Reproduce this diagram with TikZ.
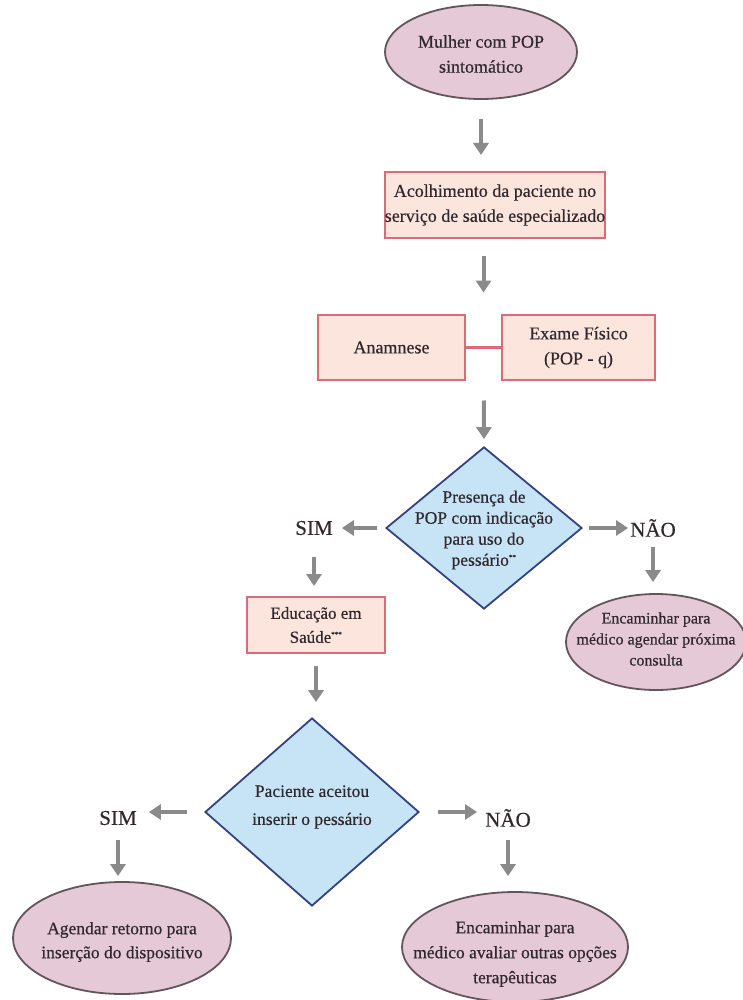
\documentclass[tikz,border=0pt]{standalone}
\usepackage{fontspec}
\setmainfont{Liberation Serif}[FakeBold=0.5]
\usetikzlibrary{shapes.geometric,arrows.meta,calc}

\definecolor{inktxt}{RGB}{48,40,45}
\definecolor{ovalfill}{RGB}{229,201,214}
\definecolor{ovalline}{RGB}{98,86,92}
\definecolor{boxfill}{RGB}{252,229,221}
\definecolor{boxline}{RGB}{218,108,120}
\definecolor{choicefill}{RGB}{199,228,246}
\definecolor{choiceline}{RGB}{52,66,128}
\definecolor{arrowgray}{RGB}{138,138,138}

\newcommand{\notestars}[1]{\textsuperscript{\fontsize{7}{7}\selectfont #1}}

\begin{document}
\begin{tikzpicture}[x=1pt,y=-1pt,
  txt/.style={text=inktxt,font=\fontsize{18}{25}\selectfont,align=center},
  oval/.style={ellipse,draw=ovalline,fill=ovalfill,line width=1.8pt,inner sep=0},
  stepbox/.style={rectangle,draw=boxline,fill=boxfill,line width=2pt,inner sep=0,txt},
  choice/.style={diamond,draw=choiceline,fill=choicefill,line width=1.8pt,inner sep=0},
  tag/.style={inner sep=0,text=inktxt,font=\fontsize{21}{21}\selectfont},
  arr/.style={draw=arrowgray,line width=4pt,-{Triangle[length=12pt,width=15pt]}}]

\useasboundingbox[fill=white] (0,0) rectangle (742,1000);

% start
\node[oval,minimum width=192pt,minimum height=94pt,
  label={[txt,yshift=-2pt]center:{Mulher com POP\\sintomático}}] (start) at (481,52) {};

% reception
\node[stepbox,minimum width=220pt,minimum height=66pt] (recv) at (495,205)
  {Acolhimento da paciente no\\serviço de saúde especializado};

% history and examination
\node[stepbox,minimum width=147pt,minimum height=65pt] (ana) at (391.5,347.5) {Anamnese};
\node[stepbox,minimum width=153pt,minimum height=65pt] (exa) at (578.5,347.5) {Exame Físico\\(POP - q)};
\draw[draw=boxline,line width=2.5pt] (ana.east) -- (exa.west);
\coordinate (j) at ($(ana.east)!0.5!(exa.west)$);

% first decision
\node[choice,minimum width=196pt,minimum height=162pt,
  label={[txt,font=\fontsize{17.5}{21}\selectfont,yshift=-2pt]center:{Presença de\\POP com indicação\\para uso do\\pessário\notestars{**}}}] (d1) at (484,528) {};
\node[tag] (sim1) at (314,528) {SIM};
\node[tag] (nao1) at (653,528) {NÃO};
\node[oval,minimum width=180pt,minimum height=96pt,
  label={[txt,font=\fontsize{16}{21}\selectfont,yshift=3pt]center:{Encaminhar para\\médico agendar próxima\\consulta}}] (end1) at (656,642) {};

% health education
\node[stepbox,minimum width=138pt,minimum height=56pt,font=\fontsize{17}{24}\selectfont] (edu) at (316,625)
  {Educação em\\Saúde\notestars{***}};

% second decision
\node[choice,minimum width=214pt,minimum height=188pt,
  label={[txt,font=\fontsize{17.5}{28}\selectfont,yshift=5pt]center:{Paciente aceitou\\inserir o pessário}}] (d2) at (312,812) {};
\node[tag] (sim2) at (118,818) {SIM};
\node[tag] (nao2) at (508,818) {NÃO};
\node[oval,minimum width=218pt,minimum height=112pt,
  label={[txt,font=\fontsize{17.5}{24}\selectfont,yshift=-4pt]center:{Agendar retorno para\\inserção do dispositivo}}] (end2) at (122,938) {};
\node[oval,minimum width=226pt,minimum height=110pt,
  label={[txt,font=\fontsize{17.5}{25}\selectfont,yshift=-7pt]center:{Encaminhar para\\médico avaliar outras opções\\terapêuticas}}] (end3) at (515,947) {};

% connectors
\draw[arr,shorten <=19pt,shorten >=16pt] (start.south) -- (start.south |- recv.north);
\draw[arr,shorten <=17pt,shorten >=55pt] (recv.south -| j) -- (j);
\draw[arr,shorten <=53pt,shorten >=7pt] (j) -- (d1.north);

\draw[arr,shorten <=8pt,shorten >=9pt] (d1.west) -- (d1.west -| sim1.east);
\draw[arr,shorten <=22pt,shorten >=10pt] (sim1.south) -- (sim1.south |- edu.north);
\draw[arr,shorten <=6pt,shorten >=2pt] (d1.east) -- (d1.east -| nao1.west);
\draw[arr,shorten <=10pt,shorten >=11pt] (nao1.south) -- (nao1.south |- end1.north);

\draw[arr,shorten <=12pt,shorten >=15pt] (edu.south) -- (edu.south |- d2.north);

\draw[arr,shorten <=17pt,shorten >=12pt] (d2.west) -- (d2.west -| sim2.east);
\draw[arr,shorten <=15pt,shorten >=5pt] (sim2.south) -- (sim2.south |- end2.north);
\draw[arr,shorten <=18pt,shorten >=8pt] (d2.east) -- (d2.east -| nao2.west);
\draw[arr,shorten <=13pt,shorten >=15pt] (nao2.south) -- (nao2.south |- end3.north);

\end{tikzpicture}
\end{document}
